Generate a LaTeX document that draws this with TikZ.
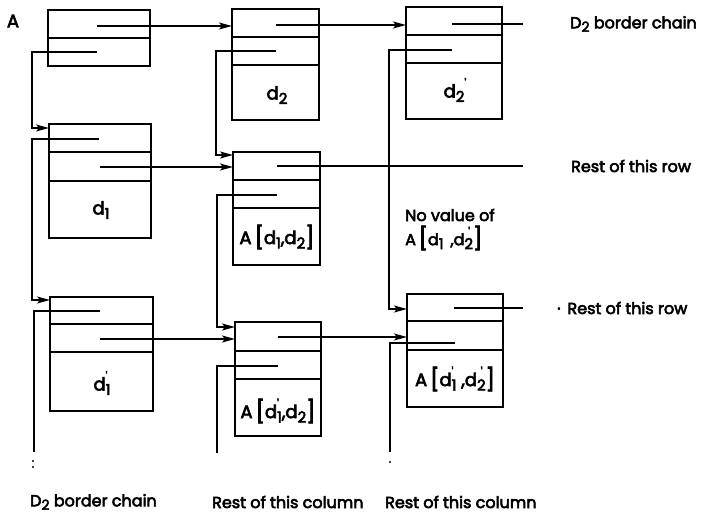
\documentclass[tikz,border=0pt]{standalone}
\usepackage{fontspec}
\setmainfont{Poppins}[FakeBold=3.5]
\usetikzlibrary{calc,arrows.meta}
\tikzset{
  cbox/.style={draw, line width=1.7pt, inner sep=0pt, outer sep=0pt, anchor=north west},
  cline/.style={line width=1.7pt},
  ptr/.style={line width=1.6pt},
  arr/.style={ptr, -{Stealth[length=13pt,width=7pt,inset=3pt]}},
  lbl/.style={inner sep=0pt, font=\fontsize{18}{20}\selectfont},
  txt/.style={inner sep=0pt, anchor=west, font=\fontsize{16}{19}\selectfont},
  cdot/.style={fill=black},
}
\newcommand{\mysubsz}{\fontsize{15}{15}\selectfont}
\newcommand{\myprime}{\textquotesingle}
\newcommand{\dsb}[1]{d\raisebox{-0.45ex}{\mysubsz #1}}
\newcommand{\dsbp}[1]{d\raisebox{-0.45ex}{\mysubsz #1}\llap{\raisebox{1.0ex}{\fontsize{12}{12}\selectfont\myprime}\kern3pt}}
\newcommand{\lbrk}{\raisebox{-0.12ex}{\fontsize{22}{22}\selectfont [}}
\newcommand{\rbrk}{\raisebox{-0.12ex}{\fontsize{22}{22}\selectfont ]}}
\newcommand{\mkbox}[7]{%
  \node[cbox, minimum width=#4pt, minimum height=#5pt] (#1) at (#2,#3) {};
  \draw[cline] ($(#1.north west)+(0,#6)$) -- ($(#1.north east)+(0,#6)$);
  \draw[cline] ($(#1.north west)+(0,#7)$) -- ($(#1.north east)+(0,#7)$);
}
\begin{document}
\begin{tikzpicture}[x=1pt,y=-1pt]
\useasboundingbox (0,0) rectangle (702,516);

% boxes
\node[cbox, minimum width=102pt, minimum height=56pt] (bA) at (48,10) {};
\draw[cline] ($(bA.north west)+(0,28)$) -- ($(bA.north east)+(0,28)$);
\mkbox{bD1}{49}{124}{102}{114}{28}{57}
\mkbox{bD1p}{50}{297}{103}{114}{27}{55}
\mkbox{bD2}{232}{9}{87}{111}{28}{56}
\mkbox{bA12}{233}{152}{87}{113}{28}{56}
\mkbox{bA1p2}{235}{322}{86}{114}{29}{57}
\mkbox{bD2p}{406}{7}{96}{112}{28}{56}
\mkbox{bA1p2p}{407}{294}{96}{113}{27}{56}

% labels inside boxes
\node[lbl] (tA) at (13,21) {A};
\node[lbl] (tD1) at (101,210) {\dsb{1}};
\node[lbl] (tD1p) at (102,383) {\dsbp{1}};
\node[lbl] (tD2) at (277,95) {\dsb{2}};
\node[lbl] (tD2p) at (455,90) {d\raisebox{-0.45ex}{\mysubsz 2}\raisebox{1.0ex}{\fontsize{12}{12}\selectfont\myprime}};
\node[lbl] (tA12) at (277,237) {A\,\lbrk\dsb{1},\dsb{2}\rbrk};
\node[lbl] (tA1p2) at (278,411) {A\,\lbrk\dsbp{1},\dsb{2}\rbrk};
\node[lbl] (tA1p2p) at (455,379) {A\,\lbrk\dsbp{1} ,\dsbp{2}\rbrk};

% pointer origins
\coordinate (pAr) at (97,26);
\coordinate (pAc) at (97,52);
\coordinate (pD1c) at (99,139);
\coordinate (pD1r) at (100,167);
\coordinate (pD1pc) at (100,311);
\coordinate (pD1pr) at (100,339);
\coordinate (pD2r) at (276,25);
\coordinate (pD2c) at (276,51);
\coordinate (pA12r) at (277,166);
\coordinate (pA12c) at (277,195);
\coordinate (pA1p2r) at (278,337);
\coordinate (pA1p2c) at (278,366);
\coordinate (pD2pr) at (452,24);
\coordinate (pD2pc) at (452,50);
\coordinate (pA1p2pr) at (454,308);
\coordinate (pA1p2pc) at (455,343);

% free ends
\coordinate (eD2pr) at (523,24);
\coordinate (eA12r) at (523,166);
\coordinate (eA1p2pr) at (523,308);
\coordinate (eCol1) at (34,452);
\coordinate (eCol2) at (217,453);
\coordinate (eCol3) at (390,452);

% row pointers
\draw[arr] (pAr) -- (pAr -| bD2.west);
\draw[arr] (pD1r) -- (pD1r -| bA12.west);
\draw[arr] (pD1pr) -- (pD1pr -| bA1p2.west);
\draw[arr] (pD2r) -- (pD2r -| bD2p.west);
\draw[arr] (pA1p2r) -- (pA1p2r -| bA1p2p.west);
\draw[ptr] (pD2pr) -- (eD2pr);
\draw[ptr] (pA12r) -- (eA12r);
\draw[ptr] (pA1p2pr) -- (eA1p2pr);

% column pointers
\draw[arr] (pAc) -- ++(-65,0) |- ($(bD1.north west)+(0,4)$);
\draw[arr] (pD1c) -- ++(-67,0) |- ($(bD1p.north west)+(0,3)$);
\draw[ptr] (pD1pc) -| (eCol1);
\draw[arr] (pD2c) -- ++(-60,0) |- ($(bA12.north west)+(0,3)$);
\draw[arr] (pA12c) -- ++(-60,0) |- ($(bA1p2.north west)+(0,5)$);
\draw[ptr] (pA1p2c) -| (eCol2);
\draw[arr] (pD2pc) -- ++(-63,0) |- ($(bA1p2p.north west)+(0,15)$);
\draw[ptr] (pA1p2pc) -| (eCol3);

% continuation dots
\fill[cdot] (33,461) circle (1.2pt);
\fill[cdot] (33,467) circle (1.2pt);
\fill[cdot] (390,462) circle (1.2pt);

% texts
\node[txt] (lD2top) at (570,24) {D\raisebox{-0.4ex}{\fontsize{14}{14}\selectfont 2} border chain};
\node[txt] (lRow1) at (571,166) {Rest of this row};
\node[txt] (lRow2) at (557,308) {\textperiodcentered\ \,Rest of this row};
\node[txt] (lNo1) at (405,215) {No value of};
\node[txt] (lNo2) at (405,238) {A\,\lbrk\dsb{1}\ \,,\dsbp{2}\rbrk};
\node[txt] (lD2bot) at (30,502) {D\raisebox{-0.4ex}{\fontsize{14}{14}\selectfont 2} border chain};
\node[txt] (lCol2) at (212,502) {Rest of this column};
\node[txt] (lCol3) at (385,502) {Rest of this column};
\end{tikzpicture}
\end{document}
